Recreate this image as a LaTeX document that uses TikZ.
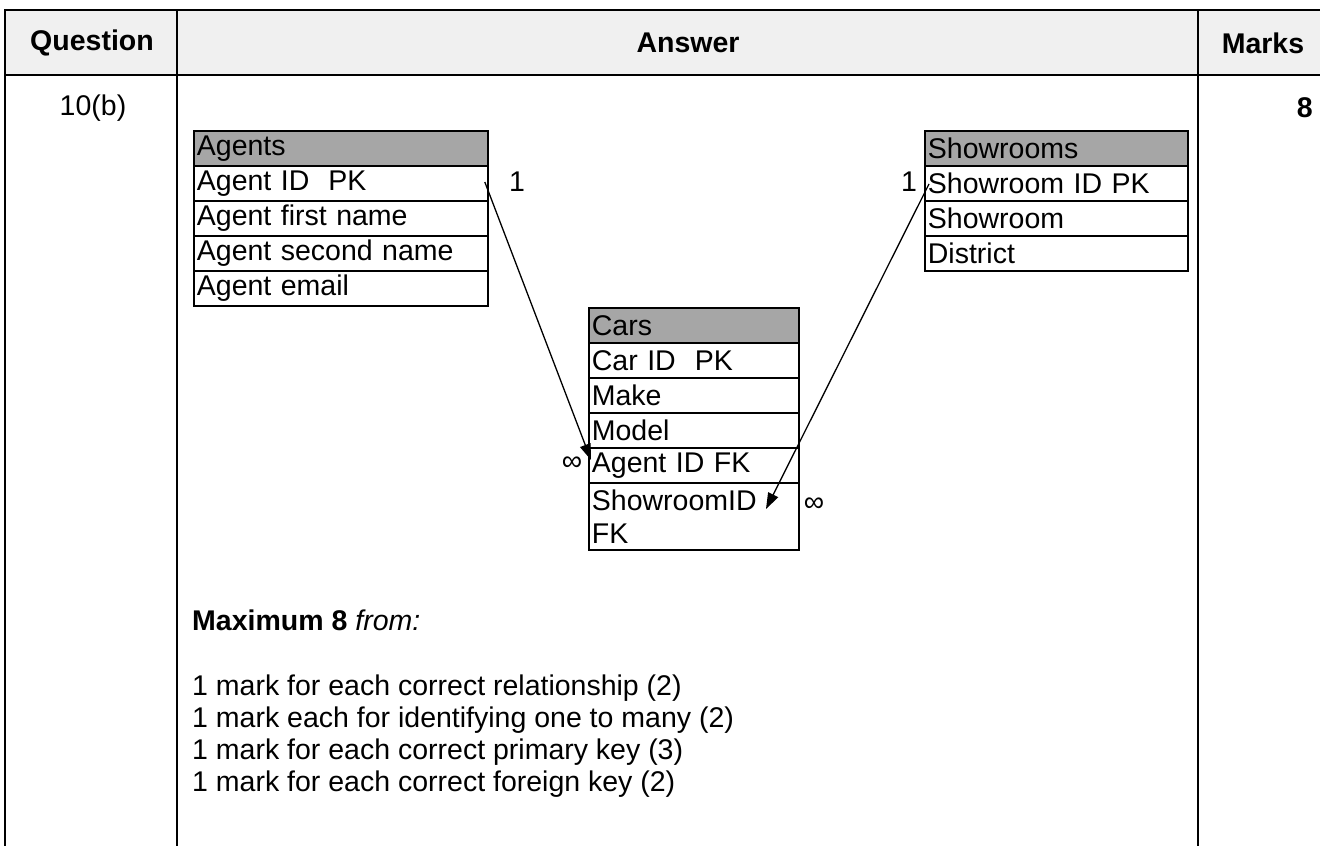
\documentclass[tikz,border=0pt]{standalone}
\usepackage{fontspec}
\setmainfont{Liberation Sans}
\usetikzlibrary{arrows.meta}
\definecolor{hdrfill}{HTML}{F0F0F0}
\definecolor{ergray}{HTML}{A6A6A6}
\newcommand\ertext{\fontsize{28.5}{33}\selectfont}
\newcommand\bodytext{\fontsize{28.5}{32}\selectfont}
\newcommand\headtext{\fontsize{28.5}{32}\selectfont\bfseries}
\begin{document}
\begin{tikzpicture}[x=1pt,y=-1pt,
  tbl/.style={line width=2pt},
  erow/.style={draw, line width=1.8pt, anchor=north west, inner xsep=3pt, inner ysep=0pt,
    minimum height=35pt, align=left, font=\ertext},
  ehead/.style={erow, fill=ergray},
  rel/.style={line width=1.3pt, -{Triangle[length=16pt,width=11pt]}},
  lbl/.style={font=\ertext, inner sep=0pt},
  body/.style={font=\bodytext, anchor=base west, inner sep=0pt},
  hd/.style={font=\headtext, inner sep=0pt}
]
\useasboundingbox (0,0) rectangle (1320,846);
\fill[white] (0,0) rectangle (1320,846);
% table
\fill[hdrfill] (5,10) rectangle (1320,75);
\draw[tbl] (1320,10) -- (5,10) -- (5,846);
\draw[tbl] (5,75) -- (1320,75);
\draw[tbl] (177,10) -- (177,846);
\draw[tbl] (1198,10) -- (1198,846);
\node[hd] (hq) at (92,43) {Question};
\node[hd] (ha) at (688,43) {Answer};
\node[hd] (hm) at (1263,43) {Marks};
\node[font=\bodytext, inner sep=0pt] (q) at (93,108) {10(b)};
\node[hd, anchor=east] (m) at (1313,108) {8};
% Agents
\node[ehead, text width=288pt] (a0) at (193,130) {Agents};
\node[erow, text width=288pt] (a1) at (193,165) {Agent ID\ \ PK};
\node[erow, text width=288pt] (a2) at (193,200) {Agent first name};
\node[erow, text width=288pt] (a3) at (193,235) {Agent second name};
\node[erow, text width=288pt] (a4) at (193,270) {Agent email};
% Showrooms
\node[ehead, text width=257pt] (s0) at (924,130) {Showrooms};
\node[erow, text width=257pt] (s1) at (924,165) {Showroom ID PK};
\node[erow, text width=257pt] (s2) at (924,200) {Showroom};
\node[erow, text width=257pt] (s3) at (924,235) {District};
% Cars
\node[ehead, text width=204pt] (c0) at (588,307) {Cars};
\node[erow, text width=204pt] (c1) at (588,342) {Car ID\ \ PK};
\node[erow, text width=204pt] (c2) at (588,377) {Make};
\node[erow, text width=204pt] (c3) at (588,412) {Model};
\node[erow, text width=204pt] (c4) at (588,447) {Agent ID FK};
\node[erow, text width=204pt, minimum height=67pt] (c5) at (588,482) {ShowroomID\\FK};
% relationships
\draw[rel] ([xshift=-4pt,yshift=-17pt]a1.north east) -- ([xshift=3pt,yshift=-13pt]c4.north west);
\draw[rel] ([xshift=5pt,yshift=-19pt]s1.north west) -- ([xshift=178pt,yshift=-27pt]c5.north west);
\node[lbl] (o1) at (517,182) {1};
\node[lbl] (o2) at (909,182) {1};
\node[lbl] (n1) at (572,464) {∞};
\node[lbl] (n2) at (814,505) {∞};
% text
\node[body] (t0) at (192,630) {\textbf{Maximum 8} \textit{from:}};
\node[body] (t1) at (192,695) {1 mark for each correct relationship (2)};
\node[body] (t2) at (192,727) {1 mark each for identifying one to many (2)};
\node[body] (t3) at (192,759) {1 mark for each correct primary key (3)};
\node[body] (t4) at (192,791) {1 mark for each correct foreign key (2)};
\end{tikzpicture}
\end{document}
